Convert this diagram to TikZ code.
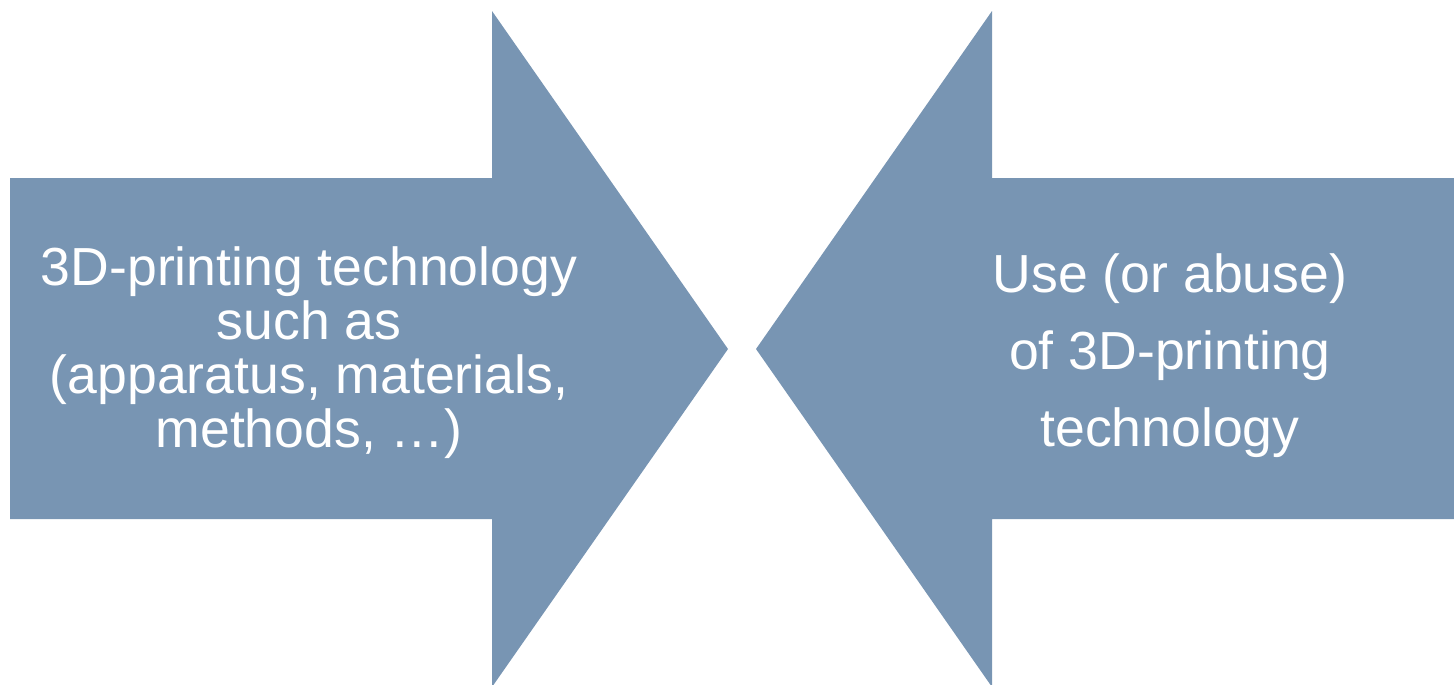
\documentclass[tikz,border=0pt]{standalone}
\usepackage{fontspec}
\setmainfont{Liberation Sans}
\definecolor{arrowblue}{RGB}{120,149,179}
\begin{document}
\begin{tikzpicture}[x=0.02cm, y=-0.02cm,
    shaft/.style={fill=arrowblue, draw=none},
    caption/.style={text=white, align=center, inner sep=0pt,
      font=\fontsize{30.5}{30.7}\selectfont}]
      \useasboundingbox (0,0) rectangle (1454,684);

      % arrow from the left
      \fill[shaft] (10,178) -- (492,178) -- (492,11) -- (728,349)
        -- (492,687) -- (492,519) -- (10,519) -- cycle;
      % arrow from the right
      \fill[shaft] (1454,178) -- (992,178) -- (992,11) -- (756,349)
        -- (992,687) -- (992,519) -- (1454,519) -- cycle;

      \node[caption] (tech) at (309,352.5)
        {3D-printing technology\\ such as\\ (apparatus, materials,\\ methods, \dots)};
      \node[caption, font=\fontsize{30.5}{43.7}\selectfont] (use) at (1170,355.5)
        {Use (or abuse)\\ of 3D-printing\\ technology};
    \end{tikzpicture}
\end{document}
